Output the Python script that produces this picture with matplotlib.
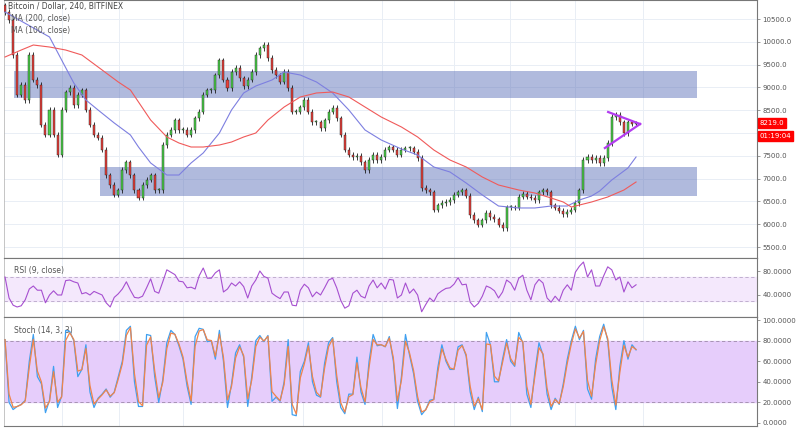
import numpy as np
import pandas as pd
import matplotlib
matplotlib.use("Agg")
import matplotlib.pyplot as plt
import matplotlib.transforms as mtransforms

# --- Datos (velas de 4h, BTC/USD Bitfinex) ---
first_open = 10800
closes = [10654, 10478, 9711, 8834, 9053, 8724, 9711, 9163, 9053, 8176,
          7957, 8505, 7957, 7518, 8505, 8899, 8987, 8614, 8834, 8943,
          8505, 8176, 7957, 7891, 7628, 7079, 6860, 6641, 6750, 7189,
          7364, 7079, 6750, 6575, 6860, 6970, 7079, 6750, 6750, 7737,
          7957, 8066, 8285, 8066, 8066, 7957, 8066, 8329, 8461, 8834,
          8943, 8943, 9272, 9601, 9163, 8987, 9338, 9426, 9206, 9031,
          9163, 9338, 9711, 9864, 9930, 9645, 9382, 9272, 9119, 9338,
          8987, 8461, 8461, 8570, 8724, 8461, 8241, 8241, 8110, 8285,
          8461, 8549, 8329, 7957, 7628, 7518, 7474, 7496, 7364, 7189,
          7408, 7518, 7408, 7474, 7628, 7693, 7628, 7518, 7628, 7671,
          7671, 7584, 7452, 6794, 6750, 6706, 6312, 6421, 6465, 6487,
          6531, 6641, 6706, 6750, 6619, 6202, 6092, 5983, 6092, 6246,
          6158, 6114, 5983, 5917, 6377, 6377, 6356, 6597, 6663, 6597,
          6575, 6531, 6706, 6750, 6706, 6421, 6356, 6290, 6224, 6268,
          6312, 6465, 6750, 7408, 7474, 7408, 7452, 7342, 7452, 7781,
          8351, 8395, 8241, 8000, 8241, 8198, 8219]

ma_fast_bars = [0, 11, 14, 17, 20, 23, 27, 31, 33, 36, 40, 43, 46, 49, 53, 56,
                59, 62, 66, 69, 73, 77, 81, 85, 89, 93, 98, 102, 106, 110, 114,
                118, 122, 127, 131, 135, 139, 142, 145, 147, 150, 154, 156]
ma_fast = [10654, 10106, 9601, 9097, 8724, 8505, 8220, 7957, 7693, 7343, 7079,
           7079, 7343, 7562, 8000, 8505, 8878, 9031, 9163, 9338, 9272, 9119,
           8878, 8505, 8066, 7847, 7649, 7518, 7255, 7145, 6904, 6641, 6399,
           6356, 6356, 6399, 6399, 6531, 6619, 6728, 6970, 7233, 7474]

ma_slow_bars = [0, 4, 7, 11, 15, 19, 23, 28, 31, 36, 40, 43, 46, 49, 53, 56,
                59, 62, 65, 69, 73, 77, 81, 85, 89, 93, 98, 102, 106, 110, 114,
                118, 122, 127, 131, 135, 138, 140, 145, 149, 153, 156]
ma_slow = [9667, 9820, 9930, 9886, 9820, 9711, 9448, 9119, 8943, 8285, 7913,
           7781, 7693, 7693, 7737, 7803, 7913, 8000, 8285, 8570, 8790, 8878,
           8899, 8790, 8570, 8351, 8132, 7913, 7628, 7408, 7255, 7035, 6860,
           6750, 6684, 6575, 6487, 6377, 6487, 6597, 6750, 6926]

rsi = [70, 35, 23, 20, 22, 32, 50, 55, 48, 48, 27, 40, 47, 40, 40, 64, 65, 62,
       60, 42, 44, 40, 46, 43, 40, 27, 20, 36, 42, 50, 62, 48, 36, 35, 38, 52,
       67, 46, 43, 62, 82, 78, 74, 63, 62, 52, 53, 50, 72, 85, 68, 68, 77, 82,
       45, 50, 60, 55, 62, 54, 35, 55, 65, 80, 71, 68, 43, 38, 34, 45, 45, 23,
       22, 48, 58, 52, 37, 45, 40, 52, 65, 68, 52, 31, 18, 22, 43, 48, 38, 35,
       55, 65, 52, 60, 50, 66, 65, 35, 40, 60, 43, 50, 40, 12, 24, 35, 29, 42,
       47, 51, 52, 58, 69, 57, 58, 28, 20, 26, 38, 55, 52, 47, 35, 45, 65, 60,
       48, 68, 73, 48, 32, 57, 66, 60, 35, 28, 38, 30, 48, 57, 48, 78, 88, 95,
       70, 82, 55, 55, 72, 87, 82, 65, 70, 45, 62, 52, 57]

stoch_k = [81, 20, 13, 16, 18, 22, 60, 86, 45, 38, 10, 22, 55, 15, 26, 90, 89,
           80, 45, 52, 76, 30, 15, 24, 28, 33, 25, 30, 45, 60, 90, 94, 40, 16,
           16, 86, 85, 45, 20, 42, 78, 90, 86, 75, 62, 36, 18, 84, 92, 91, 79,
           80, 62, 90, 60, 15, 38, 68, 76, 64, 16, 45, 80, 85, 79, 85, 21, 25,
           21, 40, 81, 8, 7, 50, 60, 78, 40, 27, 25, 58, 78, 83, 40, 15, 9, 28,
           28, 64, 30, 18, 60, 86, 75, 76, 74, 84, 60, 14, 45, 86, 66, 48, 21,
           8, 13, 22, 23, 54, 76, 60, 52, 52, 74, 76, 65, 30, 13, 25, 11, 88,
           76, 40, 40, 62, 81, 60, 55, 88, 78, 28, 15, 50, 78, 66, 28, 13, 24,
           18, 38, 62, 80, 94, 81, 90, 33, 23, 62, 84, 96, 80, 35, 13, 55, 80,
           62, 76, 71]

zone_top = [9360, 7254]
zone_bottom = [8770, 6618]
zone_start = [2.2, 23.5]
zone_end = 171

tri_bars = [149.1, 157.0, 148.3]
tri_prices = [8461, 8198, 7671]

grid_bars = [14.1, 28.2, 44.0, 73.7, 93.2, 111.0, 124.8, 140.9, 157.7]
price_ticks = [5500, 6000, 6500, 7000, 7500, 8000, 8500, 9000, 9500, 10000, 10500]
last_price = 8219
countdown = "01:19:04"

# --- Estilo ---
W, H = 800, 430
grid_c = "#e9eef5"
txt_c = "#555555"
up_c, down_c = "#4cd14a", "#e8413c"
x_min, x_max = -0.25, 185.9
wick_pad = 55

fig = plt.figure(figsize=(W / 100, H / 100), dpi=100)
fig.patch.set_facecolor("white")

def panel(y0, y1):
    ax = fig.add_axes([4 / W, 1 - y1 / H, (757 - 4) / W, (y1 - y0) / H])
    ax.set_xlim(x_min, x_max)
    ax.set_xticks([])
    ax.yaxis.tick_right()
    ax.tick_params(axis="y", direction="out", length=2, width=0.6,
                   colors="#888888", labelcolor=txt_c, labelsize=5, pad=2)
    for sp in ["top", "bottom", "right"]:
        ax.spines[sp].set_color("#777777")
        ax.spines[sp].set_linewidth(0.8)
    ax.spines["left"].set_color("#bbbbbb")
    ax.spines["left"].set_linewidth(0.6)
    for gb in grid_bars:
        ax.axvline(gb, color=grid_c, lw=0.7, zorder=0)
    return ax

# ---------- Panel principal ----------
ax = panel(0, 258)
ax.set_ylim(5259, 10917)
for p in price_ticks:
    ax.axhline(p, color=grid_c, lw=0.7, zorder=0)
ax.set_yticks([p for p in price_ticks if p != 8000])
ax.set_yticklabels([f"{p:.1f}" for p in price_ticks if p != 8000])

for top, bot, x0 in zip(zone_top, zone_bottom, zone_start):
    ax.fill_between([x0, zone_end], bot, top, color="#5b6fb8", alpha=0.48,
                    lw=0, zorder=1)

opens = [first_open] + closes[:-1]
for i, (o, c) in enumerate(zip(opens, closes)):
    col = up_c if c >= o else down_c
    hi, lo = max(o, c) + wick_pad, min(o, c) - wick_pad
    ax.vlines(i, lo, hi, color="#1a1a1a", lw=0.6, zorder=3)
    ax.bar(i, max(abs(c - o), 15), bottom=min(o, c),
           width=0.5, color=col, edgecolor="#1a1a1a", lw=0.3, zorder=4)

ax.plot(ma_fast_bars, ma_fast, color="#7d7fe0", lw=0.8, zorder=5)
ax.plot(ma_slow_bars, ma_slow, color="#f05a5a", lw=0.8, zorder=5)

ax.plot(tri_bars[:2], tri_prices[:2], color="#b33cf0", lw=1.6, zorder=6)
ax.plot([tri_bars[2], tri_bars[1]], [tri_prices[2], tri_prices[1]],
        color="#b33cf0", lw=1.6, zorder=6)

trans = mtransforms.blended_transform_factory(ax.transAxes, ax.transData)
ax.text(1.003, last_price, f"{last_price:.1f}", transform=trans, color="white",
        fontsize=5, va="center", ha="left", zorder=10, clip_on=False,
        bbox=dict(boxstyle="square,pad=0.25", fc="#ff0000", ec="#ff0000"))
ax.text(1.003, last_price - 285, countdown, transform=trans, color="white",
        fontsize=5, va="center", ha="left", zorder=10, clip_on=False,
        bbox=dict(boxstyle="square,pad=0.25", fc="#ff0000", ec="#ff0000"))

fig.text(8 / W, 1 - 6 / H, "Bitcoin / Dollar, 240, BITFINEX", fontsize=5.5,
         color="#444444", va="center", ha="left")
fig.text(11 / W, 1 - 18 / H, "MA (200, close)", fontsize=5.5, color=txt_c,
         va="center", ha="left")
fig.text(11 / W, 1 - 30 / H, "MA (100, close)", fontsize=5.5, color=txt_c,
         va="center", ha="left")

bars = np.arange(len(closes))

# ---------- RSI ----------
ax2 = panel(258, 317)
ax2.set_ylim(3.3, 101.7)
ax2.set_yticks([40, 80])
ax2.set_yticklabels(["40.0000", "80.0000"])
ax2.axhspan(30, 70, color="#f4e8fc", zorder=0)
for lv in [30, 70]:
    ax2.axhline(lv, color="#b8a6c8", lw=0.6, ls=(0, (4, 3)), zorder=1)
ax2.plot(bars, rsi, color="#a64fd0", lw=0.8, zorder=4)
ax2.text(10 / 753, 0.79, "RSI (9, close)", transform=ax2.transAxes,
         fontsize=5.5, color=txt_c, va="center", ha="left")

# ---------- Stoch ----------
ax3 = panel(317, 426)
ax3.set_ylim(-3, 103)
st_ticks = [0, 20, 40, 60, 80, 100]
ax3.set_yticks(st_ticks)
ax3.set_yticklabels([f"{t:.4f}" for t in st_ticks])
ax3.axhspan(20, 80, color="#e6cdfb", zorder=0)
for lv in [20, 80]:
    ax3.axhline(lv, color="#9d8aa8", lw=0.6, ls=(0, (4, 3)), zorder=1)
# %D: %K ligeramente suavizado
stoch_d = pd.Series(stoch_k).ewm(alpha=0.85).mean()
ax3.plot(bars, stoch_k, color="#3fa0f0", lw=0.9, zorder=4)
ax3.plot(bars, stoch_d, color="#f0844a", lw=0.9, zorder=5)
ax3.text(10 / 753, 0.88, "Stoch (14, 3, 3)", transform=ax3.transAxes,
         fontsize=5.5, color=txt_c, va="center", ha="left")

fig.savefig("out.png", dpi=100, facecolor="white")
